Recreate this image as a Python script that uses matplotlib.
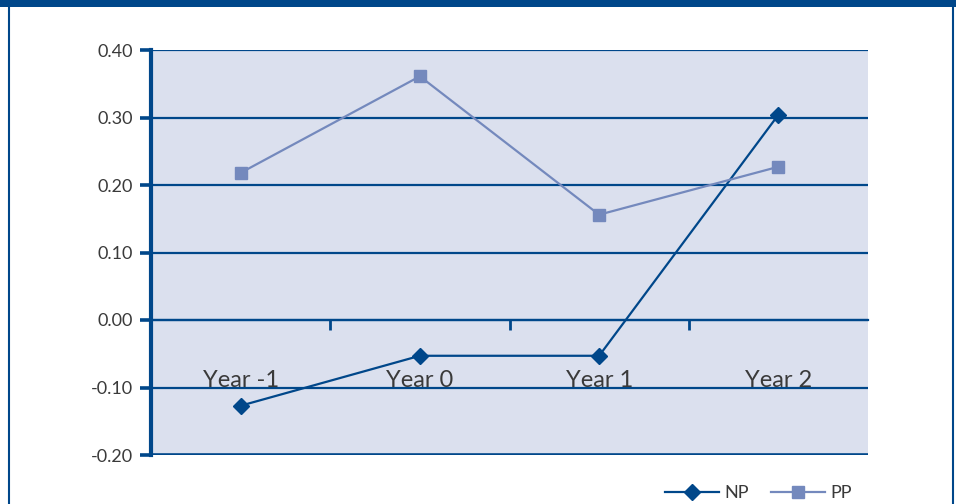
import matplotlib
matplotlib.use("Agg")
import matplotlib.pyplot as plt
from matplotlib.lines import Line2D
from matplotlib.patches import Rectangle
import numpy as np

categories = ["Year -1", "Year 0", "Year 1", "Year 2"]
np_values = [-0.127, -0.053, -0.053, 0.304]
pp_values = [0.218, 0.361, 0.156, 0.227]
y_ticks = [-0.20, -0.10, 0.00, 0.10, 0.20, 0.30, 0.40]

DARK = "#00478A"
LIGHT = "#7489BD"
BG = "#DBE0EE"
TXT = "#3A3A3A"

plt.rcParams['font.family'] = ['Lato', 'DejaVu Sans']

fig = plt.figure(figsize=(9.56, 5.04), dpi=100)
ax = fig.add_axes([151/956, 49/504, 717/956, 405/504])
ax.set_facecolor(BG)

x = np.arange(len(categories))
ax.set_xlim(-0.5, len(categories) - 0.5)
ax.set_ylim(-0.20, 0.40)

for yv in y_ticks:
    ax.axhline(yv, color=DARK, lw=1.6 if yv > -0.2 else 2.6, zorder=1)

ax.plot(x, np_values, color=DARK, lw=1.6, marker="D", ms=8, zorder=3, label="NP")
ax.plot(x, pp_values, color=LIGHT, lw=1.6, marker="s", ms=8, zorder=3, label="PP")

for s in ["top", "right"]:
    ax.spines[s].set_visible(False)
ax.spines["left"].set_color(DARK)
ax.spines["left"].set_linewidth(3)
ax.spines["bottom"].set_position(("data", 0))
ax.spines["bottom"].set_color(DARK)
ax.spines["bottom"].set_linewidth(1.6)

ax.set_yticks(y_ticks)
ax.set_yticklabels([f"{v:.2f}" for v in y_ticks])
ax.tick_params(axis="y", length=8, width=2.6, color=DARK, labelsize=13, labelcolor=TXT, pad=5)

ax.set_xticks(x)
ax.set_xticklabels(categories)
ax.tick_params(axis="x", which="major", length=0, labelsize=17, labelcolor=TXT, pad=36)
ax.set_xticks([0.5, 1.5, 2.5], minor=True)
ax.tick_params(axis="x", which="minor", length=7, width=2, color=DARK, direction="out")

leg = ax.legend(loc="upper right", bbox_to_anchor=(1.0, -0.035), ncol=2, frameon=False,
                fontsize=13, handlelength=3.0, columnspacing=1.2, handletextpad=0.3,
                labelcolor=TXT)

# frame
fig.add_artist(Rectangle((0, 497/504), 1, 7/504, transform=fig.transFigure,
                         color=DARK, lw=0))
fig.add_artist(Line2D([8.5/956, 8.5/956], [0, 497/504], transform=fig.transFigure,
                      color=DARK, lw=1.5))
fig.add_artist(Line2D([952.5/956, 952.5/956], [0, 497/504], transform=fig.transFigure,
                      color=DARK, lw=1.5))

fig.savefig("out.png", dpi=100)
